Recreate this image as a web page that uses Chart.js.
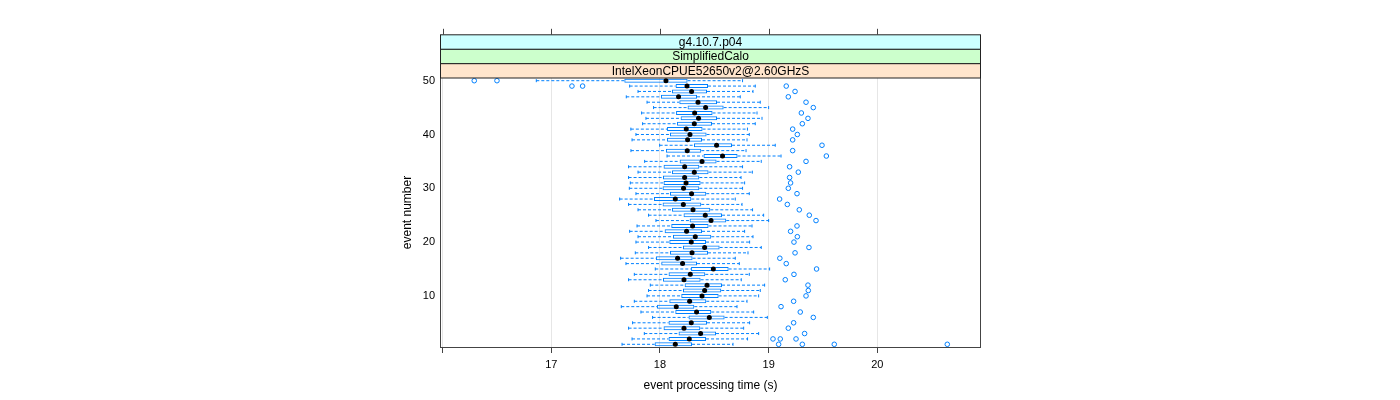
<!DOCTYPE html>
<html>
<head>
<meta charset="utf-8">
<script src="https://cdn.jsdelivr.net/npm/chart.js@4.4.1/dist/chart.umd.min.js"></script>
<style>
  html,body{margin:0;padding:0;background:#fff;}
  #wrap{width:1400px;height:400px;}
</style>
</head>
<body>
<div id="wrap"><canvas id="chart" width="1400" height="400"></canvas></div>
<script>
// ---------- Data (event 1 .. 50)
const events = [1,2,3,4,5,6,7,8,9,10,11,12,13,14,15,16,17,18,19,20,21,22,23,24,25,
  26,27,28,29,30,31,32,33,34,35,36,37,38,39,40,41,42,43,44,45,46,47,48,49,50];
const lowerWhisker = [17.651,17.743,17.856,17.711,17.748,17.932,17.825,17.644,17.764,17.881,
  17.895,17.911,17.711,17.764,17.957,17.687,17.638,17.773,17.895,17.779,
  17.798,17.721,17.789,17.963,17.895,17.798,17.711,17.629,17.779,17.718,
  17.727,17.711,17.798,17.711,17.859,18.065,17.733,17.997,17.743,17.779,
  17.732,17.840,17.871,17.831,17.941,17.881,17.690,17.798,17.721,16.862];
const lowerHinge = [17.951,18.079,18.171,18.033,18.079,18.263,18.141,17.973,18.086,18.196,
  18.212,18.227,18.028,18.079,18.286,18.012,17.963,18.092,18.212,18.086,
  18.120,18.043,18.104,18.273,18.217,18.111,18.024,17.945,18.092,18.024,
  18.033,18.028,18.111,18.033,18.181,18.401,18.055,18.313,18.065,18.092,
  18.065,18.157,18.190,18.148,18.254,18.178,18.009,18.111,18.144,17.672];
const medians = [18.141,18.270,18.374,18.221,18.288,18.454,18.337,18.150,18.273,18.387,
  18.411,18.433,18.221,18.279,18.491,18.208,18.162,18.295,18.411,18.288,
  18.325,18.245,18.300,18.470,18.417,18.304,18.215,18.141,18.291,18.217,
  18.240,18.227,18.316,18.227,18.387,18.576,18.251,18.521,18.254,18.276,
  18.242,18.316,18.355,18.319,18.420,18.350,18.171,18.291,18.249,18.055];
const upperHinge = [18.295,18.424,18.516,18.371,18.433,18.595,18.472,18.316,18.426,18.540,
  18.564,18.571,18.374,18.417,18.632,18.341,18.300,18.442,18.549,18.424,
  18.472,18.387,18.447,18.610,18.571,18.463,18.380,18.288,18.426,18.362,
  18.374,18.362,18.447,18.362,18.521,18.714,18.380,18.663,18.387,18.429,
  18.392,18.479,18.525,18.484,18.586,18.525,18.341,18.433,18.442,18.254];
const upperWhisker = [18.672,18.806,18.908,18.770,18.825,18.988,18.862,18.709,18.801,18.908,
  18.923,18.963,18.748,18.822,19.009,18.730,18.693,18.810,18.932,18.825,
  18.856,18.779,18.847,19.000,18.954,18.852,18.755,18.693,18.822,18.760,
  18.779,18.746,18.850,18.760,18.932,19.114,18.792,19.061,18.801,18.822,
  18.805,18.877,18.939,18.893,19.000,18.923,18.739,18.856,18.877,18.760];
const outliers = [[19.092,19.310,19.604,20.644],[19.040,19.107,19.252],[19.331],[19.181],[19.230],
  [19.411],[19.291],[19.114],[19.230],[19.344],
  [19.365],[19.362],[19.153],[19.233],[19.441],[19.162],[19.103],[19.243],[19.371],[19.233],
  [19.264],[19.202],[19.261],[19.436],[19.374],[19.282],[19.172],[19.101],[19.261],[19.181],
  [19.202],[19.193],[19.273],[19.193],[19.344],[19.531],[19.221],[19.491],[19.221],[19.264],
  [19.221],[19.310],[19.362],[19.301],[19.411],[19.344],[19.181],[19.243],[17.190,17.288,19.162],[16.291,16.500]];

const xTicks = [16,17,18,19,20];
const xTickLabels = ['','17','18','19','20'];
const yTicks = [10,20,30,40,50];
// strips, from the panel upwards
const stripLabels = ['IntelXeonCPUE52650v2@2.60GHzS','SimplifiedCalo','g4.10.7.p04'];
const stripColors = ['#FFE5CC','#CCFFCC','#CCFFFF'];

// ---------- Helpers
const blue = '#0080FF';
const fontFamily = '"Liberation Sans", Arial, Helvetica, sans-serif';
Chart.defaults.font.family = fontFamily;

const boxData = events.map((e,i)=>({y:e, x:[lowerHinge[i], upperHinge[i]]}));
const whiskerData = [];
events.forEach((e,i)=>{
  whiskerData.push({x:lowerWhisker[i],y:e},{x:lowerHinge[i],y:e},{x:null,y:e});
  whiskerData.push({x:upperHinge[i],y:e},{x:upperWhisker[i],y:e},{x:null,y:e});
});
const capData = events.flatMap((e,i)=>[{x:lowerWhisker[i],y:e},{x:upperWhisker[i],y:e}]);
const medianData = events.map((e,i)=>({x:medians[i],y:e}));
const outlierData = events.flatMap((e,i)=>outliers[i].map(v=>({x:v,y:e})));

// ---------- Panel frame, strips and top ticks (lattice look)
const latticePlugin = {
  id:'lattice',
  afterDraw(chart){
    const {ctx, chartArea:a, scales:{x}} = chart;
    const h = 14.4, w = a.right - a.left;
    ctx.save();
    ctx.lineWidth = 1;
    ctx.strokeStyle = '#444';
    ctx.strokeRect(a.left-0.5, a.top-0.5, w+1, a.bottom-a.top+1);
    ctx.font = '12px '+fontFamily; ctx.textAlign='center'; ctx.textBaseline='middle';
    stripLabels.forEach((lab,i)=>{
      const y = a.top - (i+1)*h;
      ctx.fillStyle = stripColors[i]; ctx.fillRect(a.left-0.5, y, w+1, h);
      ctx.strokeStyle = '#222'; ctx.strokeRect(a.left-0.5, y, w+1, h);
      ctx.fillStyle = '#000'; ctx.fillText(lab, (a.left+a.right)/2, y+h/2+0.5);
    });
    const top = a.top - stripLabels.length*h;
    ctx.strokeStyle = '#444';
    xTicks.forEach(v=>{
      const px = Math.round(x.getPixelForValue(v))+0.5;
      ctx.beginPath(); ctx.moveTo(px, top); ctx.lineTo(px, top-6); ctx.stroke();
    });
    ctx.restore();
  }
};

// ---------- Chart
new Chart(document.getElementById('chart'), {
  type:'scatter',
  data:{datasets:[
    {type:'scatter', data:medianData, pointRadius:2.5, pointBackgroundColor:'#000', pointBorderColor:'#000', pointBorderWidth:0, order:0},
    {type:'scatter', data:outlierData, pointRadius:2.3, pointBackgroundColor:'rgba(0,0,0,0)', pointBorderColor:blue, pointBorderWidth:1, order:1},
    {type:'scatter', data:capData, pointStyle:'line', pointRotation:90, pointRadius:1.5, pointBorderColor:blue, pointBorderWidth:1, order:2},
    {type:'bar', indexAxis:'y', data:boxData, barThickness:4, borderWidth:1, borderColor:blue, backgroundColor:'rgba(0,0,0,0)', borderSkipped:false, inflateAmount:0, order:3},
    {type:'scatter', data:whiskerData, showLine:true, spanGaps:false, borderColor:blue, borderWidth:1, borderDash:[3,2], pointRadius:0, order:4}
  ]},
  options:{
    responsive:false, animation:false, devicePixelRatio:1, events:[],
    layout:{padding:{left:394, right:420, top:78, bottom:0}},
    plugins:{legend:{display:false}, tooltip:{enabled:false}},
    scales:{
      x:{type:'linear', position:'bottom', min:15.985, max:20.945, offset:false,
        afterBuildTicks:s=>{ s.ticks = xTicks.map(v=>({value:v})); },
        afterFit:s=>{ s.height = 53; },
        grid:{color:'#e6e6e6', tickColor:'#444', tickLength:6, offset:false},
        border:{display:false},
        ticks:{color:'#000', font:{size:11}, padding:5, maxRotation:0, autoSkip:false, callback:(v,i)=>xTickLabels[i]},
        title:{display:true, text:'event processing time (s)', color:'#000', font:{size:12}, padding:{top:0,bottom:7}}
      },
      y:{type:'linear', position:'left', min:0.5, max:50.5, offset:false,
        afterBuildTicks:s=>{ s.ticks = yTicks.map(v=>({value:v})); },
        afterFit:s=>{ s.width = 47; },
        grid:{display:false, drawTicks:false, offset:false},
        border:{display:false},
        ticks:{color:'#000', font:{size:11}, padding:6, callback:v=>String(v)},
        title:{display:true, text:'event number', color:'#000', font:{size:12}, padding:{top:6,bottom:0}}
      }
    }
  },
  plugins:[latticePlugin]
});
</script>
</body>
</html>
